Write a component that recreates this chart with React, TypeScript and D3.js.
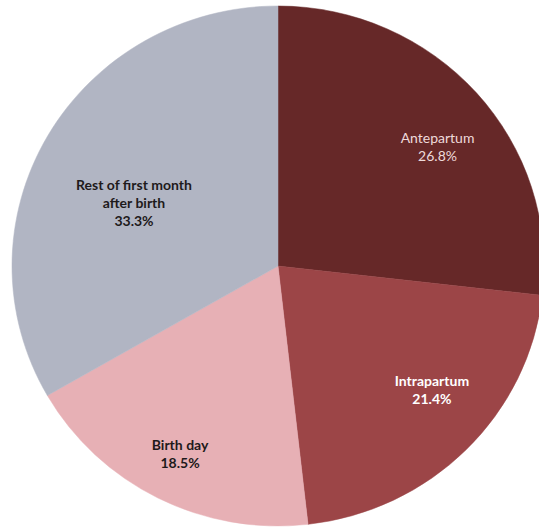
import React from "react";
import * as d3 from "d3";

const categories = ["Antepartum", "Intrapartum", "Birth day", "Rest of first month after birth"];
const values = [26.8, 21.4, 18.5, 33.3];
const labelLines = [["Antepartum"], ["Intrapartum"], ["Birth day"], ["Rest of first month", "after birth"]];

const colors = ["#662828", "#9C4547", "#E7B0B5", "#B1B5C3"];
const textColors = ["#EEDADA", "#FFFFFF", "#1E1A1B", "#1E1A1B"];
const textWeights = [400, 700, 700, 700];
// label placement: [radius factor, angle in degrees]
const labelPlace: [number, number][] = [
  [0.755, 52.6],
  [0.75, 129.5],
  [0.811, 207],
  [0.593, 294.1],
];

export default function App() {
  const W = 539, H = 528;
  const cx = 278, cy = 266, rx = 266, ry = 260;
  const pie = d3.pie<number>().sort(null).value((d) => d);
  const arcs = pie(values);
  const arc = d3.arc<d3.PieArcDatum<number>>().innerRadius(0).outerRadius(ry);
  const lineH = 18;
  return (
    <svg width={W} height={H} style={{ position: "absolute", left: 0, top: 0, background: "#fff" }}>
      <g transform={`translate(${cx},${cy}) scale(${rx / ry},1)`}>
        {arcs.map((a, i) => (
          <path key={categories[i]} d={arc(a) || ""} fill={colors[i]} stroke={colors[i]} strokeWidth={0.5} />
        ))}
      </g>
      {arcs.map((a, i) => {
        const [k, deg] = labelPlace[i];
        const t = (deg * Math.PI) / 180;
        const x = cx + Math.sin(t) * rx * k;
        const y = cy - Math.cos(t) * ry * k;
        const lines = [...labelLines[i], `${values[i].toFixed(1)}%`];
        const y0 = y - ((lines.length - 1) * lineH) / 2;
        return (
          <text
            key={"l" + i}
            x={x}
            y={y0}
            textAnchor="middle"
            fontFamily="Lato, 'Open Sans', sans-serif"
            fontSize={14}
            fontWeight={textWeights[i]}
            fill={textColors[i]}
          >
            {lines.map((ln, j) => (
              <tspan key={j} x={x} y={y0 + j * lineH} dy="0.35em">
                {ln}
              </tspan>
            ))}
          </text>
        );
      })}
    </svg>
  );
}
